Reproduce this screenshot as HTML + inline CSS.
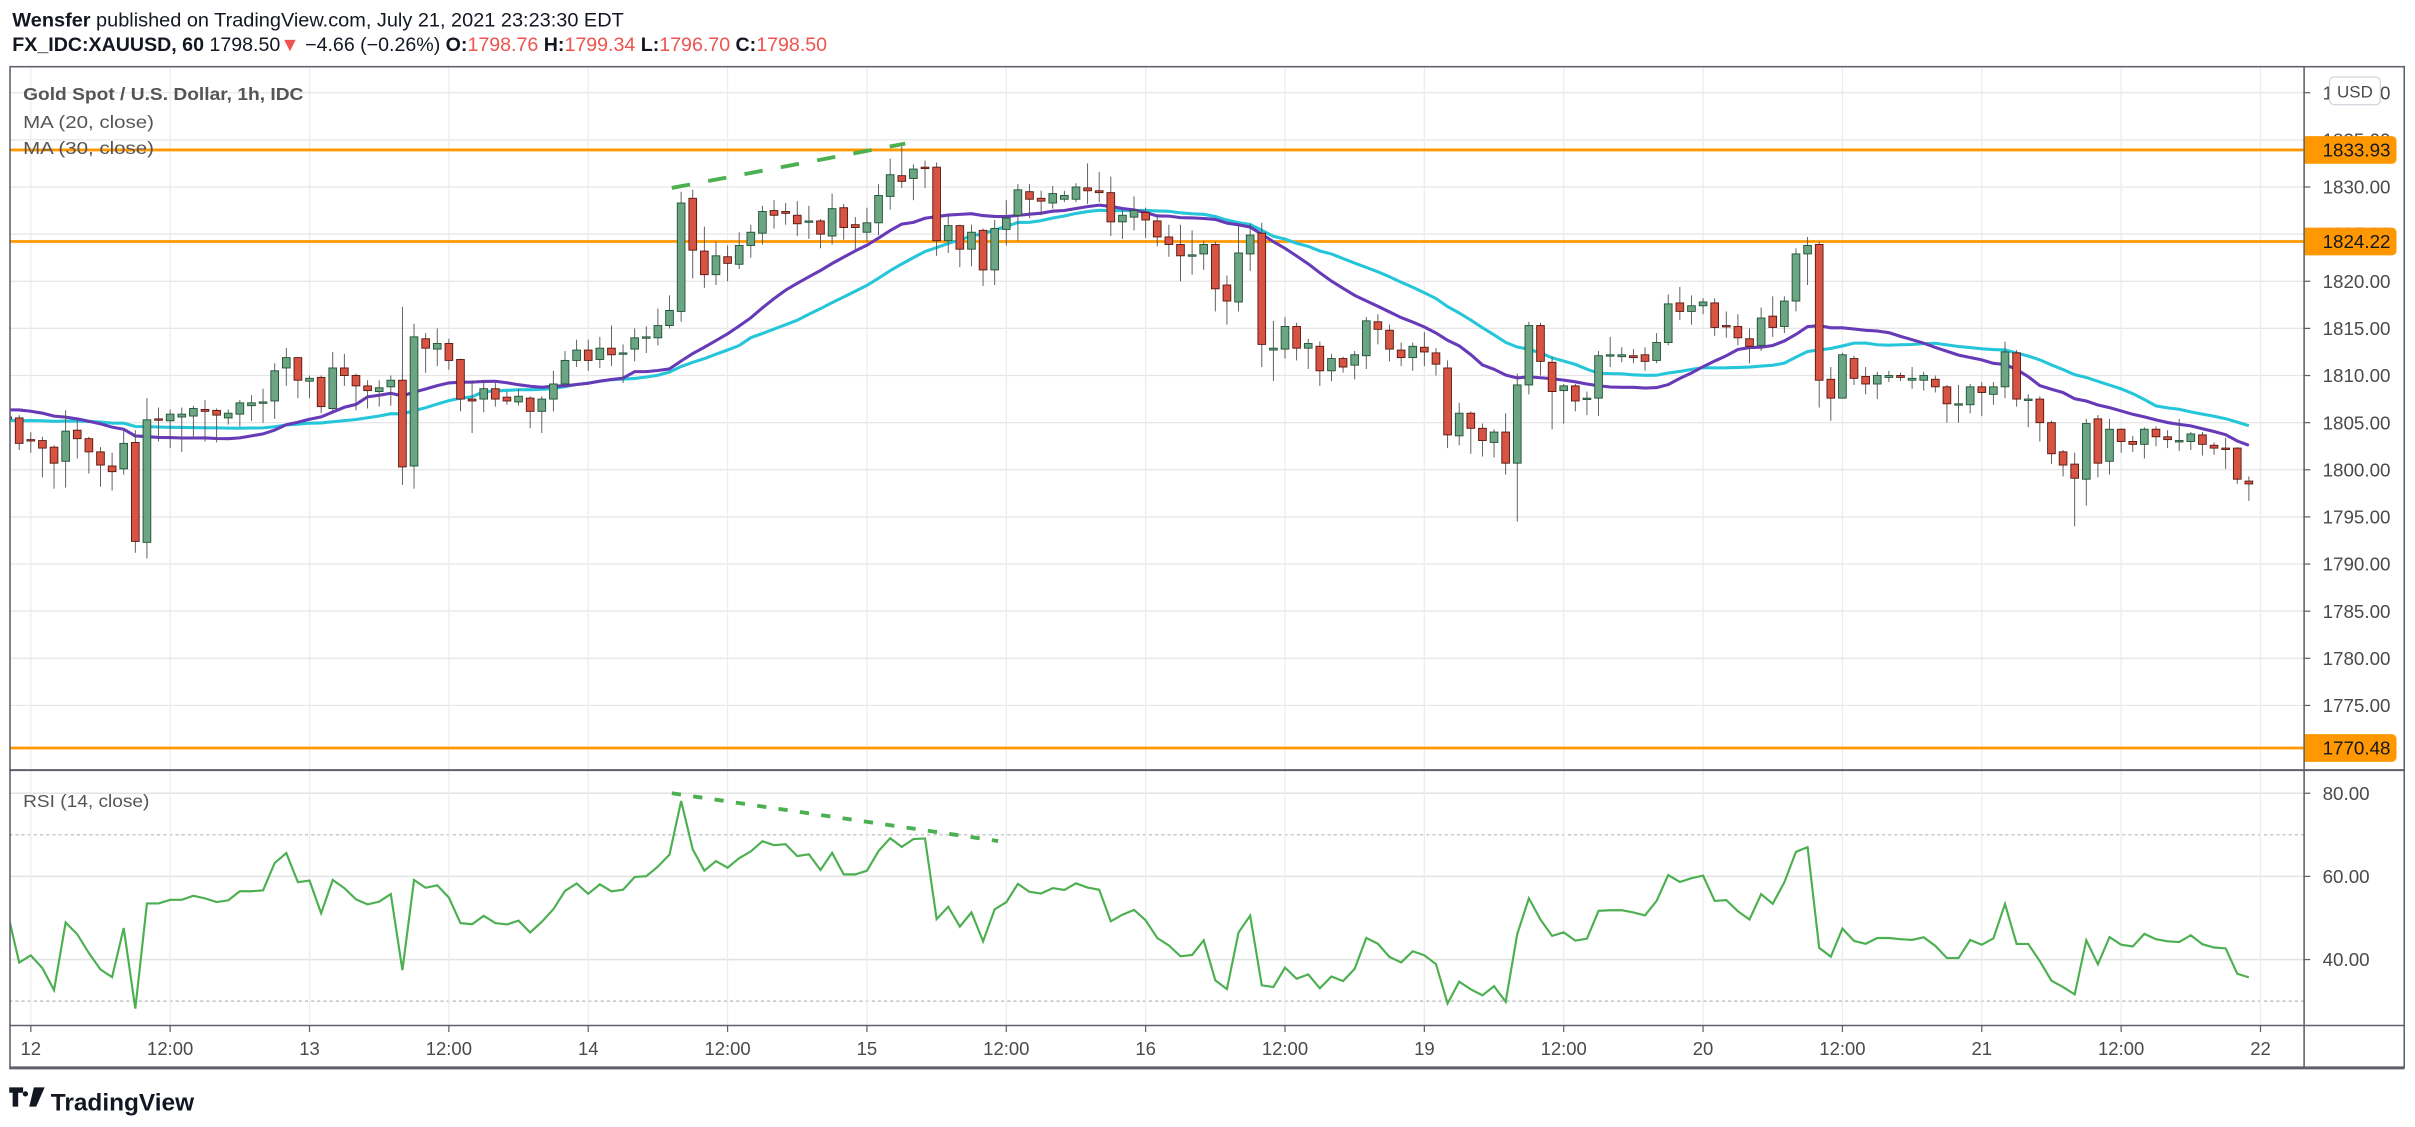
<!DOCTYPE html>
<html><head><meta charset="utf-8">
<style>
html,body{margin:0;padding:0;background:#fff;}
svg{display:block;font-family:"Liberation Sans",sans-serif;}
</style></head>
<body>
<svg id="chart" width="2415" height="1127" viewBox="0 0 1568 731.7" preserveAspectRatio="none" xmlns="http://www.w3.org/2000/svg">
<defs><clipPath id="plotclip"><rect x="6.5" y="43" width="1489" height="623"/></clipPath></defs>
<rect width="1568" height="731.7" fill="#fff"/>
<g>
<text x="8" y="17.3" font-size="12.6" fill="#131722" textLength="397" lengthAdjust="spacingAndGlyphs"><tspan font-weight="bold">Wensfer</tspan> published on TradingView.com, July 21, 2021 23:23:30 EDT</text>
<text x="8" y="33" font-size="12.6" fill="#131722" textLength="529" lengthAdjust="spacingAndGlyphs"><tspan font-weight="bold">FX_IDC:XAUUSD, 60</tspan> 1798.50<tspan fill="#ef5350">▼</tspan> −4.66 (−0.26%) <tspan font-weight="bold">O:</tspan><tspan fill="#ef5350">1798.76</tspan> <tspan font-weight="bold">H:</tspan><tspan fill="#ef5350">1799.34</tspan> <tspan font-weight="bold">L:</tspan><tspan fill="#ef5350">1796.70</tspan> <tspan font-weight="bold">C:</tspan><tspan fill="#ef5350">1798.50</tspan></text>
</g>
<g id="grid"></g>
<g id="plot" clip-path="url(#plotclip)"></g>
<g id="axes"></g>
<g fill="none">
<rect x="6.5" y="43.3" width="1554.5" height="650" stroke="#5d606b" stroke-width="1"/>
<line x1="1496" y1="43" x2="1496" y2="693" stroke="#5d606b" stroke-width="1"/>
<line x1="6" y1="500" x2="1561" y2="500" stroke="#5d606b" stroke-width="1.3"/>
<line x1="6" y1="665.8" x2="1561" y2="665.8" stroke="#5d606b" stroke-width="1"/>
<line x1="6" y1="693.3" x2="1561" y2="693.3" stroke="#5d606b" stroke-width="2"/>
</g>
<g font-size="11.6" fill="#555">
<text x="15" y="65" font-weight="bold" textLength="182" lengthAdjust="spacingAndGlyphs">Gold Spot / U.S. Dollar, 1h, IDC</text>
<text x="15" y="83" textLength="85" lengthAdjust="spacingAndGlyphs">MA (20, close)</text>
<text x="15" y="100" textLength="85" lengthAdjust="spacingAndGlyphs">MA (30, close)</text>
<text x="15" y="524" textLength="82" lengthAdjust="spacingAndGlyphs">RSI (14, close)</text>
</g>
<g>
<rect x="1512.5" y="50" width="33" height="18" rx="3" fill="#fff" stroke="#d1d4dc" stroke-width="0.8"/>
<text x="1529" y="63.2" font-size="11" fill="#4a4a4a" text-anchor="middle">USD</text>
</g>
<g>
<path d="M6 706h9v3.5h-3.2v9h-3.6v-9H6z M16.5 708.5a1.7 1.7 0 1 0 0.01 0z M22 706h7l-5.5 12.5h-4.5z" fill="#131722"/>
<text x="33" y="721" font-size="15.5" font-weight="bold" fill="#131722" textLength="93" lengthAdjust="spacingAndGlyphs">TradingView</text>
</g>
</svg>
<script>
// ---- data ----
const priorCloses = [1802.5,1803.0,1802.2,1803.4,1802.8,1803.5,1802.6,1803.1,1802.9,1803.0,1805.8,1806.4,1807.0,1806.2,1807.1,1806.8,1806.0,1806.9,1807.3,1806.5,1806.7,1807.0,1806.3,1806.8,1806.5,1806.1,1806.9,1806.4];
const opens = [1805.6,1805.5,1803.2,1803.1,1802.4,1800.9,1804.2,1803.3,1801.9,1800.4,1800.1,1802.9,1792.3,1805.4,1805.2,1805.6,1805.7,1806.4,1806.3,1805.5,1805.9,1806.8,1807.2,1807.3,1810.8,1811.9,1809.4,1809.8,1806.5,1810.8,1810.0,1808.9,1808.3,1808.8,1809.5,1800.4,1813.9,1812.8,1813.4,1811.7,1807.5,1807.5,1808.6,1807.7,1807.2,1807.6,1806.2,1807.5,1809.1,1811.6,1812.7,1811.7,1812.9,1812.4,1812.8,1814.1,1814.0,1815.3,1816.8,1828.8,1823.2,1820.7,1822.6,1821.8,1823.8,1825.1,1827.5,1827.4,1827.0,1826.4,1826.4,1824.8,1827.8,1826.0,1825.2,1826.2,1829.0,1831.2,1830.9,1832.1,1832.1,1824.3,1825.9,1823.4,1825.4,1821.2,1825.5,1827.0,1829.5,1828.8,1828.3,1828.7,1828.7,1829.9,1829.6,1829.4,1826.3,1826.8,1827.3,1826.4,1824.7,1823.9,1822.8,1822.9,1823.9,1819.6,1817.8,1822.9,1825.1,1812.7,1812.8,1815.2,1812.9,1813.1,1810.5,1811.8,1811.1,1812.1,1815.7,1814.8,1812.7,1811.9,1813.0,1812.4,1810.8,1803.6,1806.0,1804.4,1802.9,1804.0,1800.7,1809.0,1815.3,1811.4,1808.4,1808.9,1807.6,1807.6,1812.2,1812.0,1812.1,1812.2,1811.6,1813.5,1817.7,1816.8,1817.4,1817.7,1815.3,1815.2,1813.9,1813.2,1816.3,1815.2,1817.9,1822.9,1823.9,1809.6,1807.6,1811.8,1809.9,1809.1,1809.8,1810.0,1809.5,1809.5,1809.6,1808.8,1807.0,1806.9,1808.8,1808.0,1808.8,1812.4,1807.5,1807.5,1805.0,1801.9,1800.6,1799.0,1805.4,1800.9,1804.3,1803.0,1802.7,1804.3,1803.5,1803.1,1803.0,1803.7,1802.6,1802.3,1802.3,1798.8];
const closes = [1805.4,1802.8,1803.1,1802.3,1800.7,1804.1,1803.3,1801.9,1800.5,1799.8,1802.8,1792.4,1805.3,1805.3,1805.9,1805.9,1806.5,1806.2,1805.8,1806.0,1807.1,1807.1,1807.2,1810.5,1811.9,1809.5,1809.7,1806.7,1810.8,1810.0,1808.9,1808.4,1808.7,1809.5,1800.3,1814.1,1812.9,1813.4,1811.6,1807.5,1807.3,1808.6,1807.5,1807.3,1807.8,1806.2,1807.5,1809.1,1811.6,1812.7,1811.6,1812.9,1812.2,1812.4,1814.0,1814.1,1815.3,1816.9,1828.3,1823.3,1820.7,1822.7,1821.9,1823.8,1825.2,1827.4,1827.0,1827.2,1826.1,1826.4,1825.0,1827.7,1825.7,1825.7,1826.2,1829.1,1831.3,1830.6,1831.9,1832.0,1824.3,1825.9,1823.4,1825.2,1821.2,1825.6,1826.7,1829.7,1828.7,1828.5,1829.3,1829.1,1830.0,1829.6,1829.4,1826.3,1827.0,1827.5,1826.5,1824.7,1823.9,1822.7,1822.8,1823.9,1819.2,1817.9,1823.0,1824.9,1813.3,1812.9,1815.2,1812.9,1813.4,1810.5,1811.8,1810.9,1812.2,1815.8,1814.9,1812.8,1811.9,1813.1,1812.5,1811.2,1803.7,1806.0,1804.4,1803.1,1804.0,1800.7,1809.0,1815.3,1811.5,1808.3,1808.9,1807.3,1807.6,1812.1,1812.2,1812.2,1811.9,1811.5,1813.5,1817.6,1816.8,1817.4,1817.8,1815.1,1815.2,1814.0,1813.1,1816.1,1815.1,1817.9,1822.9,1823.8,1809.5,1807.6,1812.2,1809.7,1809.1,1810.0,1810.0,1809.8,1809.7,1810.0,1808.8,1807.0,1807.0,1808.8,1808.2,1808.8,1812.5,1807.5,1807.5,1805.0,1801.7,1800.5,1799.1,1804.9,1800.7,1804.3,1803.0,1802.7,1804.3,1803.5,1803.2,1803.1,1803.8,1802.7,1802.3,1802.2,1799.0,1798.5];
const highs = [1806.0,1805.8,1804.0,1803.5,1802.6,1806.3,1805.2,1803.5,1802.4,1801.8,1804.2,1804.2,1807.6,1806.6,1806.4,1806.6,1806.8,1807.4,1806.5,1806.4,1807.4,1807.9,1808.6,1811.3,1812.9,1811.9,1810.0,1810.0,1812.5,1812.3,1810.2,1809.5,1809.5,1810.0,1817.3,1815.5,1814.5,1815.0,1813.9,1811.8,1809.5,1809.5,1809.2,1808.3,1808.6,1807.8,1807.8,1810.5,1812.6,1813.8,1813.8,1814.1,1815.3,1813.3,1815.0,1815.2,1817.1,1818.5,1829.5,1829.7,1825.8,1824.2,1823.8,1825.2,1826.0,1828.0,1828.6,1828.3,1828.5,1828.0,1826.6,1829.3,1828.2,1826.8,1827.8,1830.3,1833.0,1834.3,1832.4,1832.8,1832.6,1827.1,1826.0,1826.0,1825.6,1826.5,1828.6,1830.3,1830.3,1829.6,1830.1,1829.6,1830.4,1832.5,1831.6,1831.1,1827.6,1829.0,1827.8,1827.0,1826.0,1826.0,1825.4,1824.3,1824.2,1820.6,1826.0,1826.1,1826.2,1815.8,1816.2,1815.6,1813.9,1813.6,1812.3,1812.0,1812.6,1816.2,1816.5,1815.4,1813.5,1813.5,1814.6,1812.9,1811.6,1807.1,1806.2,1804.9,1804.3,1806.0,1810.2,1815.7,1815.6,1812.0,1809.1,1809.1,1808.3,1812.6,1814.1,1813.0,1812.8,1813.0,1814.5,1818.6,1819.4,1818.5,1818.2,1818.2,1816.8,1816.5,1815.0,1817.2,1818.4,1818.4,1823.5,1824.7,1824.2,1810.9,1812.4,1812.1,1810.9,1810.4,1810.5,1810.3,1810.9,1810.4,1810.0,1809.0,1809.0,1809.1,1809.3,1809.3,1813.6,1812.7,1808.0,1807.8,1805.2,1802.1,1801.8,1805.4,1805.8,1805.4,1804.4,1803.6,1804.5,1804.6,1804.2,1805.4,1804.0,1804.0,1802.9,1803.4,1802.4,1799.3];
const lows = [1805.0,1802.1,1801.8,1799.2,1798.0,1798.1,1801.2,1799.6,1798.2,1797.8,1799.5,1791.2,1790.6,1803.0,1802.3,1801.9,1803.4,1803.0,1802.9,1804.8,1804.6,1805.2,1805.0,1805.4,1808.9,1807.6,1807.6,1806.0,1806.2,1808.9,1806.3,1806.5,1806.7,1806.8,1798.4,1798.0,1810.3,1811.0,1810.6,1806.2,1803.9,1806.1,1806.7,1806.9,1806.8,1804.4,1803.9,1806.2,1808.9,1810.9,1810.5,1810.8,1811.0,1809.2,1811.5,1812.4,1813.2,1815.0,1815.7,1820.3,1819.3,1819.6,1820.0,1821.3,1822.5,1823.9,1825.6,1826.0,1824.8,1824.5,1823.5,1823.9,1824.4,1823.4,1824.2,1824.9,1827.6,1829.9,1828.6,1829.9,1822.7,1823.0,1821.5,1821.6,1819.5,1819.6,1823.8,1824.3,1826.7,1827.0,1827.7,1828.4,1828.4,1828.2,1828.4,1824.8,1824.5,1825.4,1824.6,1823.7,1822.6,1820.0,1820.7,1821.2,1816.8,1815.4,1816.8,1821.1,1810.9,1809.4,1811.8,1811.6,1810.7,1808.9,1809.4,1810.3,1809.6,1810.7,1813.3,1811.5,1811.0,1810.5,1811.0,1810.0,1802.3,1802.6,1801.7,1801.4,1801.3,1799.5,1794.5,1808.0,1810.0,1804.3,1804.9,1806.2,1805.8,1805.7,1810.9,1811.4,1811.3,1810.5,1811.3,1813.2,1815.9,1815.4,1816.5,1814.2,1814.0,1813.2,1811.3,1812.6,1814.1,1814.5,1816.8,1819.6,1806.6,1805.2,1807.6,1809.0,1808.0,1807.5,1809.3,1809.4,1808.6,1808.4,1808.2,1805.0,1805.0,1806.0,1805.7,1806.9,1807.6,1806.7,1804.5,1803.0,1800.6,1799.3,1794.0,1796.2,1799.2,1799.5,1801.8,1801.9,1801.2,1802.5,1802.3,1802.0,1802.1,1801.5,1801.6,1800.1,1798.5,1796.7];
const priceTicks = [1775,1780,1785,1790,1795,1800,1805,1810,1815,1820,1825,1830,1835,1840];
const levelLines = [1833.93,1824.22,1770.48];
const rsiTicks = [40,60,80];
const rsiBands = [30,70];
const timeLabels = ['12','12:00','13','12:00','14','12:00','15','12:00','16','12:00','19','12:00','20','12:00','21','12:00','22'];
const priceTrend = [[57.2,1829.9],[77.3,1834.6]];
const rsiTrend = [[57.2,80.0],[85.3,68.5]];

// ---- scales ----
const BAR = 7.54;
function xOf(j){ return 20 + (j-2)*BAR; }
function yP(p){ return 305 - (p-1800)*6.12; }
function yR(r){ return 623 - (r-40)*2.7; }
const NS='http://www.w3.org/2000/svg';
function mk(tag, attrs, parent){ const e=document.createElementNS(NS,tag); for(const k in attrs) e.setAttribute(k,attrs[k]); parent.appendChild(e); return e; }
const grid=document.getElementById('grid'), plot=document.getElementById('plot'), axes=document.getElementById('axes');

// grid
priceTicks.forEach(p=>{
  const l=mk('line',{x1:6,x2:1496,y1:yP(p),y2:yP(p),stroke:'#e6e6e6','stroke-width':0.8},grid);
  
  
});
rsiTicks.forEach(r=>{
  const l=mk('line',{x1:6,x2:1496,y1:yR(r),y2:yR(r),stroke:'#e3e3e3','stroke-width':1},grid);
  
  
});
rsiBands.forEach(r=>{
  const l=mk('line',{x1:6,x2:1496,y1:yR(r),y2:yR(r),stroke:'#b2b5be','stroke-width':0.8,'stroke-dasharray':'2,2'},grid);
  
  
});
timeLabels.forEach((t,k)=>{
  const x=xOf(2+k*12);
  const l=mk('line',{x1:x,x2:x,y1:43,y2:666,stroke:'#ececec','stroke-width':0.8},grid);
  
  
  const tk=mk('line',{x1:x,x2:x,y1:666,y2:670,stroke:'#5d606b','stroke-width':0.8},axes);
  
  
  const tx=mk('text',{x:x,y:685,'font-size':12,fill:'#4a4a4a','text-anchor':'middle'},axes);
  tx.textContent=t;
  
  
});

// price axis labels
priceTicks.forEach(p=>{
  const tk=mk('line',{x1:1496,x2:1500,y1:yP(p),y2:yP(p),stroke:'#5d606b','stroke-width':0.8},axes);
  
  
  const tx=mk('text',{x:1508,y:yP(p)+4.3,'font-size':12.2,fill:'#4a4a4a'},axes);
  tx.textContent=p.toFixed(2);
  
  
});
rsiTicks.forEach(r=>{
  const tk=mk('line',{x1:1496,x2:1500,y1:yR(r),y2:yR(r),stroke:'#5d606b','stroke-width':0.8},axes);
  
  
  const tx=mk('text',{x:1508,y:yR(r)+4.3,'font-size':12.2,fill:'#4a4a4a'},axes);
  tx.textContent=r.toFixed(2);
  
  
});

// horizontal levels
levelLines.forEach(v=>{
  const l=mk('line',{x1:6,x2:1496,y1:yP(v),y2:yP(v),stroke:'#ff9800','stroke-width':1.8},plot);
  
  
  const r=mk('path',{d:`M1496 ${yP(v)-9}h57a3 3 0 0 1 3 3v12a3 3 0 0 1 -3 3h-57z`,fill:'#ff9800'},axes);
  
  
  const tx=mk('text',{x:1508,y:yP(v)+4.3,'font-size':12.2,fill:'#131722'},axes);
  tx.textContent=v.toFixed(2);
  
  
});

// moving averages & RSI
const all = priorCloses.concat(closes);
const off = priorCloses.length;
function ma(n){ const out=[]; for(let j=0;j<closes.length;j++){ const e=off+j; let s=0,c=0; for(let k=Math.max(0,e-n+1);k<=e;k++){s+=all[k];c++;} out.push(s/c);} return out; }
const ma20=ma(20), ma30=ma(30);
function rsi(n){ let g=0,l=0; for(let k=1;k<=n;k++){const d=all[k]-all[k-1]; if(d>0)g+=d; else l-=d;} g/=n; l/=n; const vals=[]; for(let k=n+1;k<all.length;k++){const d=all[k]-all[k-1]; g=(g*(n-1)+Math.max(d,0))/n; l=(l*(n-1)+Math.max(-d,0))/n; if(k>=off) vals.push(l===0?100:100-100/(1+g/l));} return vals; }
const rsiVals=rsi(14);
function poly(vals, yf){ return vals.map((v,j)=>xOf(j).toFixed(2)+','+yf(v).toFixed(2)).join(' '); }
const m30=mk('polyline',{points:poly(ma30,yP),fill:'none',stroke:'#26c6da','stroke-width':2},plot);


const m20=mk('polyline',{points:poly(ma20,yP),fill:'none',stroke:'#673ab7','stroke-width':2},plot);



// candles
closes.forEach((c,j)=>{
  const o=opens[j], up=c>=o, x=xOf(j);
  const g=mk('g',{},plot);
  
  
  mk('line',{x1:x,x2:x,y1:yP(highs[j]),y2:yP(lows[j]),stroke:'#555','stroke-width':0.6},g);
  const t=yP(Math.max(o,c)), b=yP(Math.min(o,c));
  mk('rect',{x:x-2.5,y:t,width:5,height:Math.max(b-t,0.9),fill:up?'#6ba583':'#d75442',stroke:up?'#225437':'#5b1a13','stroke-width':0.6},g);
});

// RSI line
const rl=mk('polyline',{points:poly(rsiVals,yR),fill:'none',stroke:'#4caf50','stroke-width':1.4},plot);



// trend lines
const t1=mk('line',{x1:xOf(priceTrend[0][0]),y1:yP(priceTrend[0][1]),x2:xOf(priceTrend[1][0]),y2:yP(priceTrend[1][1]),stroke:'#4caf50','stroke-width':2.5,'stroke-dasharray':'12,12'},plot);


const t2=mk('line',{x1:xOf(rsiTrend[0][0]),y1:yR(rsiTrend[0][1]),x2:xOf(rsiTrend[1][0]),y2:yR(rsiTrend[1][1]),stroke:'#4caf50','stroke-width':2.5,'stroke-dasharray':'6,8'},plot);


</script>
</body></html>
